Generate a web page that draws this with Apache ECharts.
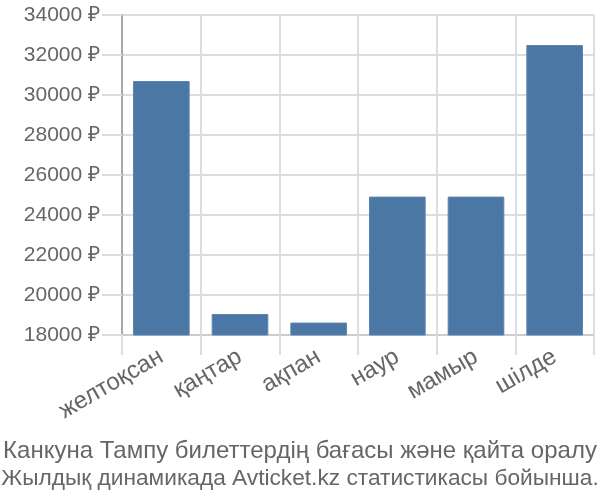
<!DOCTYPE html>
<html><head><meta charset="utf-8">
<script src="https://cdn.jsdelivr.net/npm/echarts@6/dist/echarts.min.js"></script>
<style>html,body{margin:0;padding:0;background:#fff}#c{width:600px;height:500px}</style>
</head><body><div id="c"></div>
<script>
const categories = ['желтоқсан','қаңтар','ақпан','наур','мамыр','шілде'];
const prices = [30700, 19050, 18620, 24920, 24920, 32500];
const yMin = 18000, yMax = 34000, yStep = 2000;
const titleLines = ['Канкуна Тампу билеттердің бағасы және қайта оралу', 'Жылдық динамикада Avticket.kz статистикасы бойынша.'];

const chart = echarts.init(document.getElementById('c'));
chart.setOption({
  animation: false,
  title: {
    text: '{a|' + titleLines[0] + '}\n{b|' + titleLines[1] + '}',
    left: 'center', top: 433,
    textStyle: {
      fontFamily: 'Liberation Sans', fontWeight: 'normal', color: '#666',
      rich: {
        a: {fontFamily: 'Liberation Sans', fontSize: 24, color: '#666', lineHeight: 27},
        b: {fontFamily: 'Liberation Sans', fontSize: 22.7, color: '#666', lineHeight: 27}
      }
    }
  },
  grid: {left: 122, right: 6, top: 15, bottom: 165},
  xAxis: {
    type: 'category', data: categories,
    axisLine: {show: true, lineStyle: {color: '#ccc', width: 2}},
    axisTick: {show: true, length: 20, lineStyle: {color: '#ddd', width: 2}},
    splitLine: {show: true, lineStyle: {color: '#ddd', width: 2}},
    axisLabel: {rotate: 30, fontFamily: 'Liberation Sans', fontSize: 24, color: '#666', margin: 20}
  },
  yAxis: {
    type: 'value', min: yMin, max: yMax, interval: yStep,
    axisLine: {show: true, lineStyle: {color: '#aaa', width: 2}},
    axisTick: {show: true, length: 20, lineStyle: {color: '#ddd', width: 2}},
    splitLine: {show: true, lineStyle: {color: '#ddd', width: 2}},
    axisLabel: {fontFamily: 'Liberation Sans', fontSize: 21, color: '#666', margin: 22,
      formatter: v => v + ' ₽'}
  },
  series: [{
    type: 'bar', data: prices, barCategoryGap: '28%',
    itemStyle: {color: '#4b77a5', borderColor: '#5b84b0', borderWidth: 1}
  }]
});
</script></body></html>
